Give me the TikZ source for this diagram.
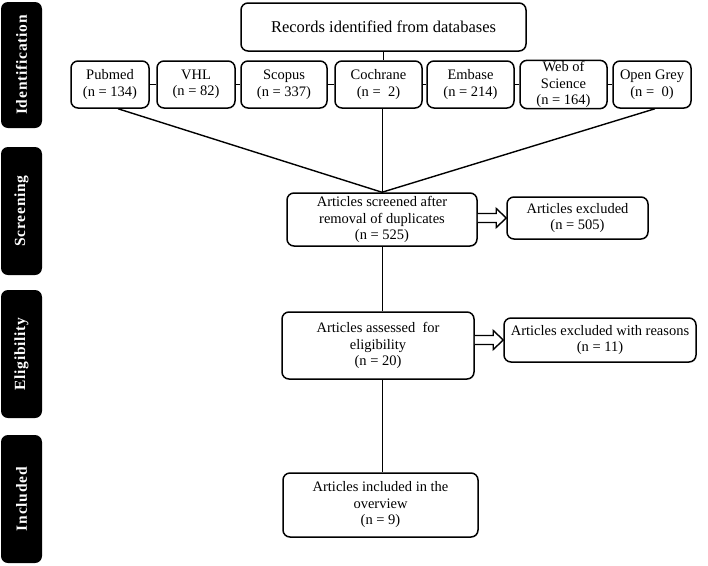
\documentclass[tikz,border=0pt]{standalone}
\usepackage{fontspec}
\setmainfont{Liberation Serif}
\newfontfamily\stageFont[LetterSpace=5]{Liberation Serif}
\usepackage{tikz}
\usetikzlibrary{calc}

\tikzset{
  flowBox/.style={draw, line width=1.5pt, rounded corners=7pt, align=center, inner sep=1pt, font=\fontsize{14.5}{16.5}\selectfont},
  dbBox/.style={flowBox, minimum height=47pt},
  stageLabel/.style={fill=black, rounded corners=7pt, rotate=90, minimum width=128pt, minimum height=41pt, inner sep=0pt, text=white, font=\stageFont\bfseries\fontsize{15.5}{17}\selectfont},
  link/.style={line width=1pt},
  feedLine/.style={line width=1.4pt},
  hollowArrow/.style={line width=1.4pt, fill=white, line join=miter}
}

\begin{document}
\begin{tikzpicture}[x=1pt, y=-1pt]
  \useasboundingbox (0,0) rectangle (708,565);
  % stage labels
  \node[stageLabel, minimum width=126pt] (ident) at (21.5,65) {Identification};
  \node[stageLabel] (screen) at (21.5,211) {Screening};
  \node[stageLabel] (elig) at (21.5,354) {Eligibility};
  \node[stageLabel] (incl) at (21.5,499) {Included};
  % databases
  \node[flowBox, minimum width=285pt, minimum height=48pt, font=\fontsize{16.5}{19}\selectfont] (rec) at (383.5,27) {Records identified from databases};
  \node[dbBox, minimum width=78pt] (pub) at (110,84.5) {Pubmed\\(n = 134)};
  \node[dbBox, minimum width=78pt] (vhl) at (196,84.5) {VHL\\(n = 82)};
  \node[dbBox, minimum width=86pt] (sco) at (284,84.5) {Scopus\\(n = 337)};
  \node[dbBox, minimum width=87pt] (coch) at (378.5,84.5) {Cochrane\\(n =\ \ 2)};
  \node[dbBox, minimum width=87pt] (emb) at (470.5,84.5) {Embase\\(n = 214)};
  \node[dbBox, minimum width=87pt] (wos) at (563.5,84.5) {Web of\\Science\\(n = 164)};
  \node[dbBox, minimum width=78pt] (og) at (652,84.5) {Open Grey\\(n =\ \ 0)};
  % flow
  \node[flowBox, minimum width=190pt, minimum height=53pt] (scr) at (382,219.5) {Articles screened after\\removal of duplicates\\(n = 525)};
  \node[flowBox, minimum width=141pt, minimum height=42pt] (excl) at (577.5,218) {Articles excluded\\(n = 505)};
  \node[flowBox, minimum width=192pt, minimum height=67pt] (ass) at (378,345.5) {Articles assessed\ \ for\\eligibility\\(n = 20)};
  \node[flowBox, minimum width=192pt, minimum height=44pt] (rsn) at (600,340) {Articles excluded with reasons\\(n = 11)};
  \node[flowBox, minimum width=195pt, minimum height=64pt] (inc) at (380.5,505) {Articles included in the\\overview\\(n = 9)};
  % connectors
  \draw[link] (rec.south) -- (rec.south |- coch.north);
  \foreach \a/\b in {pub/vhl, vhl/sco, sco/coch, coch/emb, emb/wos, wos/og}
    \draw[link] (\a.east) -- (\b.west);
  \draw[feedLine] ([xshift=8pt]pub.south) -- (scr.north);
  \draw[feedLine] ([xshift=3pt]og.south) -- (scr.north);
  \draw[link] (coch.south -| scr.north) -- (scr.north);
  \draw[link] (scr.south) -- (scr.south |- ass.north);
  \draw[link] (ass.south -| scr.south) -- (scr.south |- inc.north);
  \draw[hollowArrow] ($(scr.east |- excl.west)+(0,-4.5)$) -- ($(excl.west)+(-10,-4.5)$) -- ($(excl.west)+(-10,-9.5)$) -- (excl.west) -- ($(excl.west)+(-10,9.5)$) -- ($(excl.west)+(-10,4.5)$) -- ($(scr.east |- excl.west)+(0,4.5)$);
  \draw[hollowArrow] ($(ass.east |- rsn.west)+(0,-4.5)$) -- ($(rsn.west)+(-10,-4.5)$) -- ($(rsn.west)+(-10,-9.5)$) -- (rsn.west) -- ($(rsn.west)+(-10,9.5)$) -- ($(rsn.west)+(-10,4.5)$) -- ($(ass.east |- rsn.west)+(0,4.5)$);
\end{tikzpicture}
\end{document}
